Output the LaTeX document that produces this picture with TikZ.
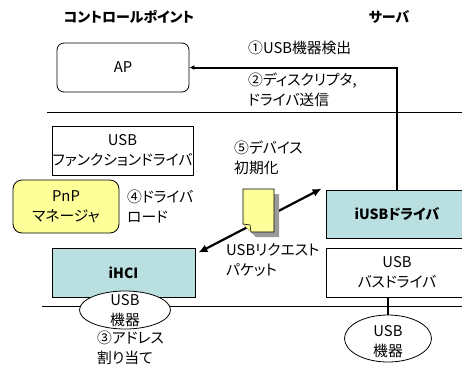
\documentclass[tikz,border=0pt]{standalone}
\usepackage{fontspec}
\setmainfont{Noto Sans CJK JP}[RawFeature=+palt]
\usetikzlibrary{arrows.meta,calc,shapes.geometric}
\definecolor{cyanfill}{HTML}{B9DFE1}
\definecolor{yellowfill}{HTML}{FFFF99}
\definecolor{shadowgray}{HTML}{9A9A9A}
\newcommand{\bigtxt}{\fontsize{14.8}{20}\selectfont}
\newcommand{\boldtxt}{\fontsize{14}{20}\selectfont\bfseries}
\tikzset{
  box/.style={draw, line width=0.8pt, align=center, inner sep=0pt},
  lbl/.style={align=left, anchor=west, inner sep=0pt},
  ctext/.style={align=center, inner sep=0pt},
  usbell/.style={draw, ellipse, line width=0.8pt, fill=white, inner sep=0pt},
  heavy/.style={line width=2pt},
  rule/.style={line width=0.8pt},
}
\begin{document}
\begin{tikzpicture}[x=1pt,y=-1pt,font=\bigtxt]
\useasboundingbox (0,0) rectangle (462,367);
% headings
\node[ctext, font=\boldtxt] (hcp) at (129,17) {コントロールポイント};
\node[ctext, font=\boldtxt] (hsv) at (389,17) {サーバ};
% separator lines
\coordinate (l1a) at (47,112); \coordinate (l1b) at (470,112);
\coordinate (l2a) at (42,306); \coordinate (l2b) at (470,306);
\draw[rule] (l1a) -- (l1b);
\draw[rule] (l2a) -- (l2b);
% boxes
\node[box, rounded corners=7pt, minimum width=132pt, minimum height=49pt] (ap) at (123,67.5) {AP};
\node[box, minimum width=141pt, minimum height=49pt] (fn) at (122.5,150.5) {USB\\ファンクションドライバ};
\node[box, rounded corners=9pt, fill=yellowfill, minimum width=106pt, minimum height=53pt] (pnp) at (66,206.5) {PnP\\マネージャ};
\node[box, fill=cyanfill, minimum width=143pt, minimum height=49pt, font=\boldtxt] (ihci) at (123.5,272.5) {iHCI};
\node[box, fill=cyanfill, minimum width=142pt, minimum height=48pt, font=\boldtxt] (iusb) at (397,214) {iUSBドライバ};
\node[box, minimum width=142pt, minimum height=49pt] (bus) at (397,272.5) {USB\\バスドライバ};
% ellipses
\node[usbell, minimum width=91pt, minimum height=38pt] (lell) at (125,310) {};
\node[ctext] (lellt) at (125,311) {USB\\機器};
\node[usbell, minimum width=87pt, minimum height=47pt] (rell) at (388,338.5) {};
\node[ctext] (rellt) at (388,342) {USB\\機器};
% labels
\node[lbl] (s1) at (248,48) {①USB機器検出};
\node[lbl] (s2) at (248,90) {②ディスクリプタ,\\ドライバ送信};
\node[lbl] (s5) at (234,158) {⑤デバイス\\初期化};
\node[lbl] (s4) at (127,207) {④ドライバ\\ロード};
\node[lbl] (req) at (226,260) {USBリクエスト\\パケット};
\node[lbl] (s3) at (97,348) {③アドレス\\割り当て};
% connectors
\draw[heavy, -{Latex[length=5pt,width=5pt]}] (iusb.north) |- (ap.east);
\draw[line width=2.2pt, {Latex[length=9pt,width=8pt]}-{Latex[length=9pt,width=8pt]}]
  ($(ihci.north east)+(3,5)$) -- ($(iusb.north west)+(-4,-1)$);
\draw[heavy] (rell.north |- bus.south) -- (rell.north);
% document icon
\coordinate (doc) at (258,210);
\fill[shadowgray] (248,194) -- (279,194) -- (279,237) -- (256,237) -- (248,229) -- cycle;
\draw[fill=yellowfill, line width=0.6pt] (243,189) -- (274,189) -- (274,232) -- (251,232) -- (243,224) -- cycle;
\draw[fill=yellowfill, line width=0.6pt] (243,224) -- (250,225) -- (251,232);
\end{tikzpicture}
\end{document}
